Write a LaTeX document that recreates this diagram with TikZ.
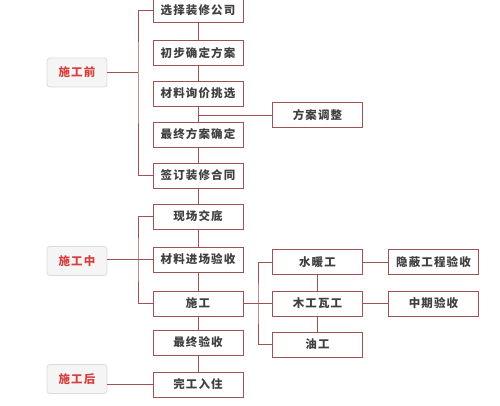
\documentclass[tikz,border=0pt]{standalone}
\usepackage{fontspec}
\usepackage{tikz}
\usetikzlibrary{calc}
\newfontfamily\cjk[LetterSpace=10]{Noto Sans CJK SC}
\definecolor{boxline}{RGB}{160,82,82}
\definecolor{boxtext}{RGB}{64,64,64}
\definecolor{phasered}{RGB}{214,64,62}
\tikzset{
	stepbox/.style={draw=boxline, line width=1pt, fill=white, minimum width=90pt, minimum height=25pt, inner sep=0pt, text=boxtext, font=\cjk\bfseries\fontsize{11.5}{13}\selectfont},
	phasebox/.style={draw=black!14, line width=0.8pt, fill=black!4, rounded corners=3pt, minimum width=60pt, minimum height=29pt, inner sep=0pt, text=phasered, font=\cjk\bfseries\fontsize{11.5}{13}\selectfont},
	link/.style={draw=boxline, line width=1pt}
}

\begin{document}
\begin{tikzpicture}[x=1pt, y=-1pt]
	%%%%% START %%%%%
	\useasboundingbox[fill=white] (0,0) rectangle (500,405);
	
	% phases
	\node[phasebox] (pre) at (77, 72.5) {施工前};
	\node[phasebox] (mid) at (77, 261) {施工中};
	\node[phasebox] (post) at (77, 379) {施工后};
	
	% main column
	\node[stepbox] (s1) at (198, 10) {选择装修公司};
	\node[stepbox] (s2) at (198, 53) {初步确定方案};
	\node[stepbox] (s3) at (198, 93.5) {材料询价挑选};
	\node[stepbox] (s4) at (198, 134.5) {最终方案确定};
	\node[stepbox] (s5) at (198, 175.5) {签订装修合同};
	\node[stepbox] (s6) at (198, 216.5) {现场交底};
	\node[stepbox] (s7) at (198, 259.5) {材料进场验收};
	\node[stepbox] (s8) at (198, 303.5) {施工};
	\node[stepbox] (s9) at (198, 342.5) {最终验收};
	\node[stepbox] (s10) at (198, 384.5) {完工入住};
	
	% side column
	\node[stepbox] (adjust) at (317.5, 115) {方案调整};
	\node[stepbox] (plumb) at (317.5, 262) {水暖工};
	\node[stepbox] (wood) at (317.5, 303.5) {木工瓦工};
	\node[stepbox] (paint) at (317.5, 344.5) {油工};
	\node[stepbox] (hidden) at (433.5, 262) {隐蔽工程验收};
	\node[stepbox] (midcheck) at (433.5, 303.5) {中期验收};
	
	\coordinate (bpre) at (138, 72.5);
	\coordinate (bmid) at (138, 259.5);
	\coordinate (bsub) at (258, 303.5);
	
	% spine
	\foreach \a/\b in {s1/s2, s2/s3, s3/s4, s4/s5, s5/s6, s6/s7, s7/s8, s8/s9, s9/s10}
		\draw[link] (\a.south) -- (\b.north);
	
	% brackets
	\draw[link] (pre.east) -- (bpre);
	\draw[link] (s1.west) -| (bpre) |- (s5.west);
	\draw[link] (mid.east |- s7.west) -- (s7.west);
	\draw[link] (s6.west) -| (bmid) |- (s8.west);
	\draw[link] (post.east |- s10.west) -- (s10.west);
	
	\draw[link] (s3.south |- adjust.west) -- (adjust.west);
	
	\draw[link] (s8.east) -- (bsub) -- (wood.west);
	\draw[link] (plumb.west) -| (bsub) |- (paint.west);
	\draw[link] (plumb.south) -- (wood.north);
	\draw[link] (wood.south) -- (paint.north);
	\draw[link] (plumb.east) -- (hidden.west);
	\draw[link] (wood.east) -- (midcheck.west);
	
	%%%%% END %%%%%
\end{tikzpicture}
\end{document}
